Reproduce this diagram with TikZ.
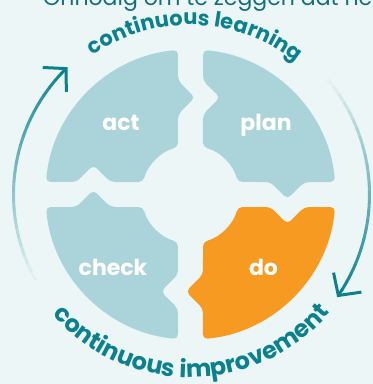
\documentclass[tikz,border=0pt]{standalone}
\usepackage{fontspec}
\setmainfont{Poppins}
\usetikzlibrary{arrows.meta,decorations.text}

\definecolor{bgcol}{HTML}{EDF6F7}
\definecolor{quarterblue}{HTML}{ABD4DA}
\definecolor{quarterorange}{HTML}{F79A22}
\definecolor{pdcateal}{HTML}{0B818E}
\definecolor{headteal}{HTML}{146E7A}

\tikzset{
  quarter/.style={rounded corners=4.5pt},
  arcline/.style={line width=3pt},
  phaselabel/.style={text=white, font=\bfseries\fontsize{22}{22}\selectfont, anchor=base, inner sep=0pt},
}

\begin{document}
\begin{tikzpicture}[x=1pt,y=1pt]
	\fill[bgcol] (-190.5,-189.5) rectangle (182.5,194.5);
	\useasboundingbox (-190.5,-189.5) rectangle (182.5,194.5);
	
	% heading, cut off by the top edge
	\node[anchor=base west, text=headteal, font=\fontsize{22}{22}\selectfont, inner sep=0pt] (heading) at (-147.5,189.5) {Onnodig om te zeggen dat het};
	
	% quarters: plan, do, check, act
	\foreach \ang/\col in {0/quarterblue,-90/quarterorange,180/quarterblue,90/quarterblue}
		\fill[quarter, \col, rotate=\ang] (64,12.5) -- (80,12.5) -- (97,-4.5) -- (114,12.5) -- (144.5,12.5)
			arc[start angle=4.94, end angle=85.06, radius=145] -- (12.5,114) -- (29.5,97) -- (12.5,80) -- (12.5,47.4)
			arc[start angle=75.2, end angle=14.8, radius=49] -- cycle;
	
	\node[phaselabel] (plan) at (75.5,64.5) {plan};
	\node[phaselabel] (do) at (73,-80.5) {do};
	\node[phaselabel] (check) at (-77.5,-80.5) {check};
	\node[phaselabel] (act) at (-69.5,64.5) {act};
	
	% texts along the circle
	\path[decorate, decoration={text along path, text align=center, text color=pdcateal,
		text={|\bfseries\fontsize{21}{21}\selectfont|continuous learning}}]
		(150:169.5) arc[start angle=150, end angle=26.5, radius=169.5];
	\path[decorate, decoration={text along path, text align=center, text color=pdcateal,
		text={|\bfseries\fontsize{24}{24}\selectfont|continuous improvement}}]
		(200:183) arc[start angle=200, end angle=340.8, radius=183];
	
	% left arrow, fading towards the bottom
	\foreach \i in {0,...,24} {
		\pgfmathtruncatemacro\fadepct{4*\i}
		\draw[arcline, draw=pdcateal!\fadepct!bgcol] ({212-3*\i}:177) arc[start angle={212-3*\i}, end angle={208.8-3*\i}, radius=177];
	}
	\draw[arcline, pdcateal, -{Straight Barb[length=16pt,width=34pt]}] (137:177) arc[start angle=137, end angle=134, radius=177];
	
	% right arrow, fading towards the top
	\foreach \i in {0,...,24} {
		\pgfmathtruncatemacro\fadepct{4*\i}
		\draw[arcline, draw=pdcateal!\fadepct!bgcol] ({43-3*\i}:179) arc[start angle={43-3*\i}, end angle={39.8-3*\i}, radius=179];
	}
	\draw[arcline, pdcateal, -{Straight Barb[length=16pt,width=34pt]}] (-32:179) arc[start angle=-32, end angle=-35, radius=179];
	
\end{tikzpicture}
\end{document}
